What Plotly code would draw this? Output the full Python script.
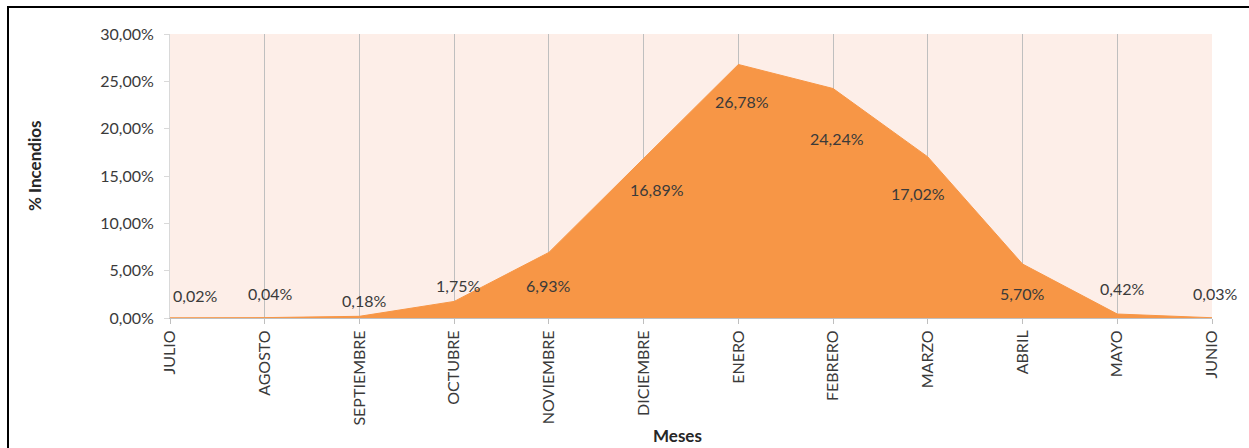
import plotly.graph_objects as go

# Monthly share of wildfires (%), fire season July -> June
meses = ["JULIO", "AGOSTO", "SEPTIEMBRE", "OCTUBRE", "NOVIEMBRE", "DICIEMBRE",
         "ENERO", "FEBRERO", "MARZO", "ABRIL", "MAYO", "JUNIO"]
porcentaje = [0.02, 0.04, 0.18, 1.75, 6.93, 16.89, 26.78, 24.24, 17.02, 5.70, 0.42, 0.03]
y_ticks = [0, 5, 10, 15, 20, 25, 30]

# pixel offsets of each value label relative to its point
label_dx = [25, 5, 5, 4, -1, 13, 4, 4, -10, -1, 5, 3]
label_dy = [22, 24, 16, 16, -33, -31, -37, -50, -37, -29, 26, 24]

W, H = 1249, 448
L, R, T, B = 170, 1212, 34, 318   # plot area in pixels


def px_x(px):
    return (px - L) / (R - L)


def px_y(py):
    return (B - py) / (B - T)


def pct(v):
    return f"{v:.2f}%".replace(".", ",")


FONT = "Lato"
ORANGE = "#F79646"
TEXT = "#3A3A3A"

fig = go.Figure()
fig.add_trace(go.Scatter(
    x=meses, y=porcentaje, mode="lines", fill="tozeroy",
    fillcolor=ORANGE, line=dict(color=ORANGE, width=1),
    hoverinfo="skip", showlegend=False,
))

for m, v, dx, dy in zip(meses, porcentaje, label_dx, label_dy):
    fig.add_annotation(
        x=m, y=v, xref="x", yref="y", showarrow=False,
        text=pct(v), xshift=dx, yshift=dy,
        font=dict(family=FONT, size=16, color=TEXT),
    )

fig.add_annotation(
    x=px_x(34), y=px_y(166), xref="paper", yref="paper", showarrow=False,
    xanchor="center", yanchor="middle",
    text="<b>% Incendios</b>", textangle=-90,
    font=dict(family=FONT, size=17, color="#262626"),
)
fig.add_annotation(
    x=px_x(677), y=px_y(435), xref="paper", yref="paper", showarrow=False,
    xanchor="center", yanchor="middle",
    text="<b>Meses</b>",
    font=dict(family=FONT, size=17, color="#262626"),
)

# frame lines (top and left)
fig.add_shape(type="line", xref="paper", yref="paper",
              x0=px_x(7), x1=px_x(W), y0=px_y(7), y1=px_y(7),
              line=dict(color="black", width=2))
fig.add_shape(type="line", xref="paper", yref="paper",
              x0=px_x(8), x1=px_x(8), y0=px_y(7), y1=px_y(H),
              line=dict(color="black", width=2))

fig.update_layout(
    width=W, height=H,
    margin=dict(l=L, r=W - R, t=T, b=H - B),
    paper_bgcolor="white",
    plot_bgcolor="#FDEEE8",
    xaxis=dict(
        type="category", range=[0, len(meses) - 1],
        showgrid=True, gridcolor="#BFBFBF", gridwidth=1,
        showline=True, linecolor="#BFBFBF", linewidth=1,
        ticks="outside", ticklen=5, tickcolor="#BFBFBF",
        tickangle=-90,
        tickfont=dict(family=FONT, size=16, color=TEXT),
        zeroline=False, fixedrange=True,
    ),
    yaxis=dict(
        range=[0, 30], tickvals=y_ticks, ticktext=[pct(t) for t in y_ticks],
        showgrid=False,
        showline=True, linecolor="#D9D9D9", linewidth=1,
        ticks="outside", ticklen=5, tickcolor="#D9D9D9",
        ticklabelstandoff=7,
        tickfont=dict(family=FONT, size=16, color=TEXT),
        zeroline=False, fixedrange=True,
    ),
)

fig.write_html("out.html")
